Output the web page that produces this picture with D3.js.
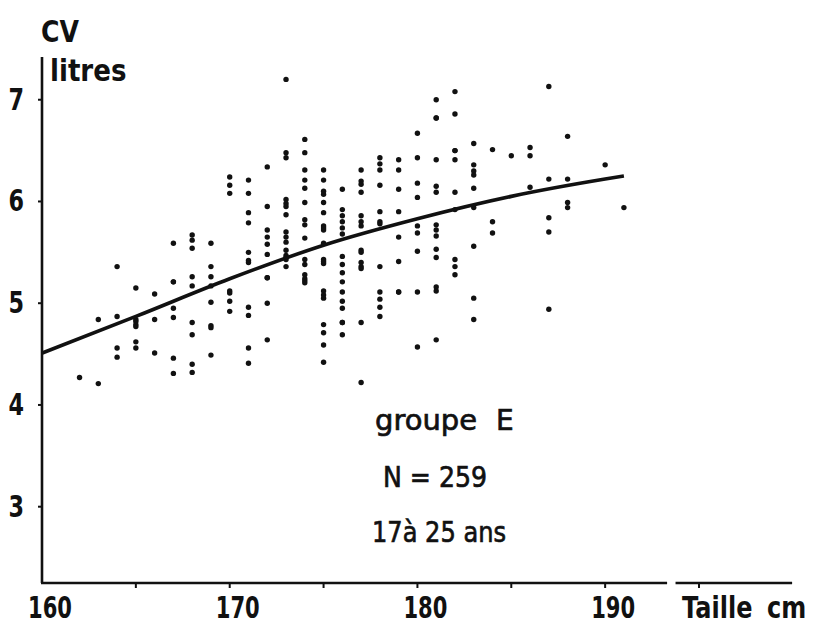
<!DOCTYPE html>
<html><head><meta charset="utf-8">
<script src="https://cdn.jsdelivr.net/npm/d3@7"></script>
<style>
html,body{margin:0;padding:0;background:#fff;}
svg{display:block;}
.ax{font-family:"DejaVu Sans",sans-serif;font-weight:bold;fill:#111;}
.ann{font-family:"DejaVu Sans",sans-serif;fill:#111;stroke:#111;stroke-width:0.7;}
</style>
</head><body>
<script>
// ---- data ----
const xTickValues = [160, 170, 180, 190];
const xMinorTicks = [165, 170, 175, 180, 185, 190, 195];
const yTickValues = [3, 4, 5, 6, 7];
const curveHeight = [160, 165, 170, 175, 180, 185, 190, 191];
const curveCV     = [4.51, 4.87, 5.24, 5.57, 5.83, 6.05, 6.22, 6.25];
const colHeight = [162,163,164,165,166,167,168,169,170,171,172,173,174,175,176,177,178,179,180,181,182,183,184,185,186,187,188,190,191];
const colCV = [
  [4.27],
  [4.84,4.21],
  [5.36,4.87,4.56,4.47],
  [5.15,4.84,4.82,4.79,4.77,4.62,4.56],
  [5.09,4.84,4.51],
  [5.59,5.21,5.21,4.95,4.86,4.46,4.31],
  [5.67,5.62,5.54,5.26,5.17,4.81,4.69,4.40,4.32],
  [5.59,5.36,5.26,5.17,5.01,4.78,4.76,4.49],
  [6.24,6.16,6.08,5.12,5.10,5.02,4.92],
  [6.21,6.08,5.89,5.79,5.50,5.42,5.40,4.96,4.88,4.56,4.41],
  [6.34,5.95,5.72,5.65,5.58,5.48,5.25,5.25,5.00,4.64],
  [7.20,6.48,6.43,6.02,5.98,5.95,5.87,5.70,5.65,5.60,5.52,5.47,5.45,5.43,5.36],
  [6.61,6.48,6.31,6.21,6.13,5.99,5.82,5.77,5.64,5.43,5.38,5.28,5.24,5.22,5.20],
  [6.31,6.21,6.10,6.07,5.99,5.89,5.76,5.74,5.72,5.59,5.43,5.41,5.39,5.12,5.08,5.05,4.79,4.71,4.59,4.42],
  [6.12,5.92,5.86,5.80,5.74,5.68,5.46,5.38,5.30,5.21,5.11,5.02,4.95,4.81,4.81,4.69],
  [6.31,6.20,6.17,6.09,5.86,5.80,5.76,5.52,5.50,5.40,5.36,5.34,4.81,4.22],
  [6.43,6.37,6.31,6.16,5.90,5.80,5.78,5.36,5.11,5.04,4.96,4.87],
  [6.41,6.31,6.12,5.90,5.65,5.41,5.11,5.11],
  [6.67,6.43,6.18,6.04,5.76,5.69,5.51,5.11,4.57],
  [7.00,6.82,6.82,6.41,6.15,6.09,5.77,5.72,5.66,5.53,5.45,5.16,5.12,4.64],
  [7.08,6.86,6.50,6.50,6.41,6.09,5.92,5.43,5.36,5.28],
  [6.57,6.36,6.30,6.26,6.13,5.94,5.56,5.05,4.84],
  [6.51,5.80,5.69],
  [6.45],
  [6.53,6.45,6.14],
  [7.13,6.22,5.84,5.70,4.94],
  [6.64,6.22,5.99,5.94],
  [6.36],
  [5.94]
];

// ---- layout ----
const W = 818, H = 626;
const svg = d3.select("body").append("svg").attr("width", W).attr("height", H);
const x = d3.scaleLinear().domain([160, 195]).range([42, 699]);
const y = d3.scaleLinear().domain([2.25, 7.42]).range([583, 57]);

const points = [];
colHeight.forEach((h, i) => colCV[i].forEach(v => points.push({h, v})));

function label(tx, ty, txt, size, sx, anchor) {
  return svg.append("text").attr("class", "ax")
    .attr("transform", `translate(${tx},${ty}) scale(${sx},1)`)
    .attr("text-anchor", anchor || "start")
    .attr("font-size", size).text(txt);
}

// axes lines
svg.append("line").attr("x1", x(160)).attr("x2", x(160)).attr("y1", y(7.42)).attr("y2", y(2.25))
  .attr("stroke", "#111").attr("stroke-width", 2.6);
svg.append("line").attr("x1", x(160) - 1).attr("x2", x(193.3)).attr("y1", y(2.25)).attr("y2", y(2.25))
  .attr("stroke", "#111").attr("stroke-width", 2.6);
svg.append("line").attr("x1", x(193.75)).attr("x2", x(199.96)).attr("y1", y(2.25)).attr("y2", y(2.25))
  .attr("stroke", "#111").attr("stroke-width", 2.6);

// x ticks
svg.selectAll(".xt").data(xMinorTicks).enter().append("line")
  .attr("x1", d => x(d)).attr("x2", d => x(d)).attr("y1", y(2.25)).attr("y2", y(2.25) + 5)
  .attr("stroke", "#111").attr("stroke-width", 2);
xTickValues.forEach(d => label(x(d) + 8, 618, d, 31, 0.68, "middle"));

// y ticks
svg.selectAll(".yt").data(yTickValues).enter().append("line")
  .attr("x1", x(160) - 4).attr("x2", x(160)).attr("y1", d => y(d)).attr("y2", d => y(d))
  .attr("stroke", "#111").attr("stroke-width", 2);
yTickValues.forEach(d => label(24, y(d) + 10, d, 31, 0.72, "end"));

// axis titles
label(41, 42, "CV", 30, 0.84);
label(50, 81, "litres", 30, 0.87);
label(682, 618, "Taille", 30, 0.8);
label(767, 618, "cm", 30, 0.8);

// scatter
svg.selectAll(".pt").data(points).enter().append("circle")
  .attr("cx", d => x(d.h)).attr("cy", d => y(d.v)).attr("r", 2.7).attr("fill", "#111");

// curve
const line = d3.line().x(d => x(d[0])).y(d => y(d[1])).curve(d3.curveMonotoneX);
svg.append("path").datum(curveHeight.map((h, i) => [h, curveCV[i]]))
  .attr("d", line).attr("fill", "none").attr("stroke", "#111").attr("stroke-width", 3.6);

// annotation
svg.append("text").attr("class", "ann").attr("x", 375).attr("y", 430).attr("font-size", 28)
  .attr("textLength", 102).attr("lengthAdjust", "spacingAndGlyphs").text("groupe");
svg.append("text").attr("class", "ann").attr("x", 496).attr("y", 430).attr("font-size", 28).text("E");
svg.append("text").attr("class", "ann").attr("x", 383).attr("y", 487).attr("font-size", 28)
  .attr("textLength", 104).attr("lengthAdjust", "spacingAndGlyphs").text("N = 259");
svg.append("text").attr("class", "ann").attr("x", 372).attr("y", 542).attr("font-size", 28)
  .attr("textLength", 134).attr("lengthAdjust", "spacingAndGlyphs").text("17à 25 ans");
</script>
</body></html>
